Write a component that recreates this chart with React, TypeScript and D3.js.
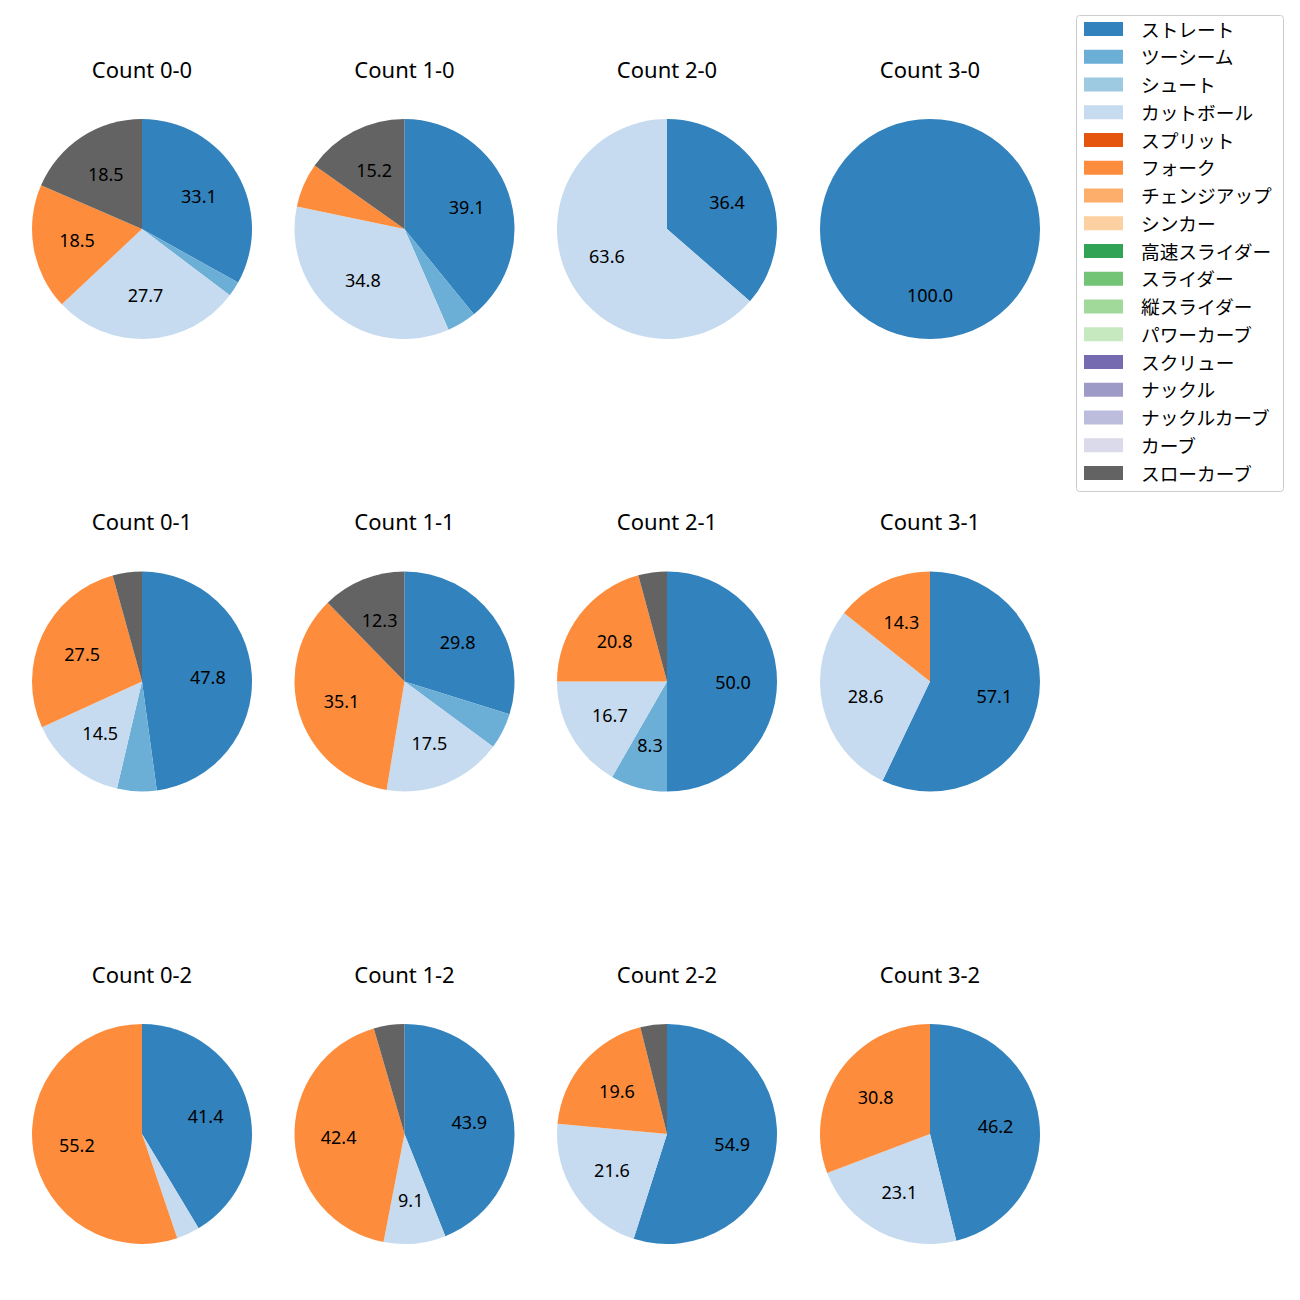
import React from "react";
import * as d3 from "d3";

const pitchTypes = [
  "ストレート", "ツーシーム", "シュート", "カットボール", "スプリット", "フォーク",
  "チェンジアップ", "シンカー", "高速スライダー", "スライダー", "縦スライダー",
  "パワーカーブ", "スクリュー", "ナックル", "ナックルカーブ", "カーブ", "スローカーブ",
];
const pitchColors = [
  "#3182bd", "#6baed6", "#9ecae1", "#c6dbef", "#e6550d", "#fd8d3c", "#fdae6b",
  "#fdd0a2", "#31a354", "#74c476", "#a1d99b", "#c7e9c0", "#756bb1", "#9e9ac8",
  "#bcbddc", "#dadaeb", "#636363",
];

const countTitles = [
  "Count 0-0", "Count 1-0", "Count 2-0", "Count 3-0",
  "Count 0-1", "Count 1-1", "Count 2-1", "Count 3-1",
  "Count 0-2", "Count 1-2", "Count 2-2", "Count 3-2",
];

// values per count: [pitch type, percentage]
const c00: [string, number][] = [["ストレート", 33.1], ["ツーシーム", 2.2], ["カットボール", 27.7], ["フォーク", 18.5], ["スローカーブ", 18.5]];
const c10: [string, number][] = [["ストレート", 39.1], ["ツーシーム", 4.3], ["カットボール", 34.8], ["フォーク", 6.5], ["スローカーブ", 15.2]];
const c20: [string, number][] = [["ストレート", 36.4], ["カットボール", 63.6]];
const c30: [string, number][] = [["ストレート", 100.0]];
const c01: [string, number][] = [["ストレート", 47.8], ["ツーシーム", 5.8], ["カットボール", 14.5], ["フォーク", 27.5], ["スローカーブ", 4.3]];
const c11: [string, number][] = [["ストレート", 29.8], ["ツーシーム", 5.3], ["カットボール", 17.5], ["フォーク", 35.1], ["スローカーブ", 12.3]];
const c21: [string, number][] = [["ストレート", 50.0], ["ツーシーム", 8.3], ["カットボール", 16.7], ["フォーク", 20.8], ["スローカーブ", 4.2]];
const c31: [string, number][] = [["ストレート", 57.1], ["カットボール", 28.6], ["フォーク", 14.3]];
const c02: [string, number][] = [["ストレート", 41.4], ["カットボール", 3.4], ["フォーク", 55.2]];
const c12: [string, number][] = [["ストレート", 43.9], ["カットボール", 9.1], ["フォーク", 42.4], ["スローカーブ", 4.5]];
const c22: [string, number][] = [["ストレート", 54.9], ["カットボール", 21.6], ["フォーク", 19.6], ["スローカーブ", 3.9]];
const c32: [string, number][] = [["ストレート", 46.2], ["カットボール", 23.1], ["フォーク", 30.8]];

const countData = [c00, c10, c20, c30, c01, c11, c21, c31, c02, c12, c22, c32];

const FONT = "'Noto Sans', 'Noto Sans CJK JP', sans-serif";
const LABEL_MIN = 7;

export default function App() {
  const W = 1300, H = 1300;
  const R = 110;
  const colX = [142, 404.5, 667, 930];
  const rowY = [229, 681.5, 1134];
  const color = d3.scaleOrdinal<string, string>().domain(pitchTypes).range(pitchColors);
  const pie = d3.pie<[string, number]>()
    .sort(null)
    .value((d) => d[1])
    .startAngle(0)
    .endAngle(2 * Math.PI);
  const arc = d3.arc<d3.PieArcDatum<[string, number]>>().innerRadius(0).outerRadius(R);

  const legendX = 1076, legendY = 15, legendW = 207, legendH = 476;
  const legendStep = 27.75;

  return (
    <svg width={W} height={H} style={{ position: "absolute", left: 0, top: 0, background: "#fff" }} fontFamily={FONT}>
      <rect x={0} y={0} width={W} height={H} fill="#fff" />
      {countData.map((data, i) => {
        const cx = colX[i % 4];
        const cy = rowY[Math.floor(i / 4)];
        const arcs = pie(data);
        return (
          <g key={i}>
            <text x={cx} y={cy - 160.5} textAnchor="middle" dominantBaseline="central" fontSize={22} fill="#000">
              {countTitles[i]}
            </text>
            <g transform={`translate(${cx},${cy})`}>
              {arcs.map((a, j) => (
                <path key={j} d={arc(a) || ""} fill={color(a.data[0])} />
              ))}
              {arcs.map((a, j) => {
                if (a.data[1] < LABEL_MIN) return null;
                const mid = (a.startAngle + a.endAngle) / 2;
                const x = Math.sin(mid) * R * 0.6;
                const y = -Math.cos(mid) * R * 0.6;
                return (
                  <text key={"t" + j} x={x} y={y} textAnchor="middle" dominantBaseline="central" fontSize={18} fill="#000">
                    {a.data[1].toFixed(1)}
                  </text>
                );
              })}
            </g>
          </g>
        );
      })}
      <rect x={legendX + 0.5} y={legendY + 0.5} width={legendW} height={legendH} rx={3} ry={3} fill="#fff" stroke="#cccccc" strokeWidth={1} />
      {pitchTypes.map((p, k) => {
        const y = legendY + 14 + k * legendStep;
        return (
          <g key={p}>
            <rect x={1084} y={y - 7} width={39} height={14} fill={color(p)} />
            <text x={1141} y={y} dominantBaseline="central" fontSize={18.7} fill="#000">{p}</text>
          </g>
        );
      })}
    </svg>
  );
}
